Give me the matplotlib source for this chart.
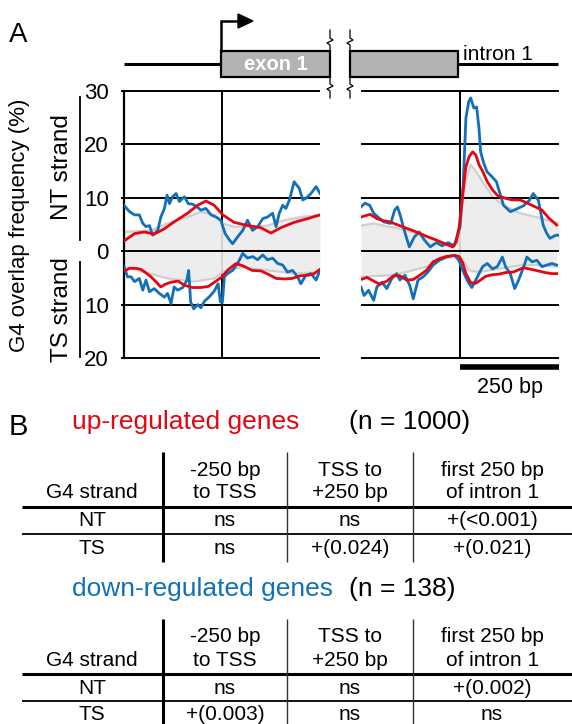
import matplotlib
matplotlib.use("Agg")
import matplotlib.pyplot as plt
from matplotlib.patches import Rectangle, Polygon

plt.rcParams['font.family'] = ['Liberation Sans', 'DejaVu Sans']

RED = '#e30613'
BLUE = '#1270b8'
GRAY_FILL = '#ebebeb'
GRAY_EDGE = '#cfcfcf'

# ---- panel A, left: -250 bp .. +250 bp around the TSS ----
tss_red_nt_x = [-250, -223, -198, -173, -147, -122, -88, -62, -41, -20, 2, 31, 66, 99, 125, 150, 184, 218, 250]
tss_red_nt = [1.9, 3.3, 3.6, 3.2, 4.2, 5.5, 7.1, 8.6, 9.4, 8.6, 6.8, 5.4, 4.8, 4.4, 3.4, 4.4, 5.4, 6.1, 6.8]

tss_blue_nt_x = [-250, -236, -223, -211, -202, -194, -185, -177, -164, -156, -147, -140, -134, -126, -117,
                 -109, -96, -86, -75, -62, -54, -41, -28, -15, -3, 8, 19, 27, 40, 53, 65, 78, 91, 104,
                 116, 129, 138, 146, 155, 163, 172, 184, 197, 206, 214, 227, 240, 250]
tss_blue_nt = [8.6, 7.4, 6.8, 6.8, 5.2, 4.6, 4.8, 3.0, 3.9, 6.4, 8.0, 10.5, 8.9, 10.2, 10.8,
               9.3, 10.2, 8.9, 8.8, 8.2, 7.7, 8.0, 6.8, 6.4, 5.8, 3.3, 2.1, 1.4, 2.7, 3.9, 5.8, 3.9, 4.6, 6.1,
               6.4, 7.1, 4.6, 7.1, 8.6, 8.0, 9.6, 13.0, 11.8, 9.6, 9.9, 10.8, 12.1, 10.8]

tss_red_ts_x = [-250, -236, -220, -207, -195, -181, -165, -156, -145, -130, -112, -95, -75, -54, -35, -15,
                0, 15, 36, 55, 77, 100, 120, 138, 160, 179, 200, 220, 235, 250]
tss_red_ts = [3.8, 3.2, 3.2, 3.4, 4.0, 4.8, 6.0, 6.7, 6.2, 5.8, 5.6, 6.4, 6.8, 6.8, 6.6, 5.6,
              4.8, 3.5, 2.3, 2.8, 3.6, 3.7, 4.4, 5.1, 5.2, 5.1, 4.6, 4.5, 4.2, 3.4]

tss_blue_ts_x = [-250, -241, -232, -223, -211, -202, -194, -185, -173, -160, -147, -139, -130, -122, -113,
                 -100, -90, -85, -80, -72, -62, -54, -45, -32, -20, -10, -4, 1, 6, 14, 27, 40, 53, 65,
                 78, 91, 104, 116, 129, 142, 155, 167, 180, 193, 201, 214, 227, 240, 250]
tss_blue_ts = [2.9, 4.8, 4.8, 5.7, 5.1, 7.3, 5.4, 7.6, 7.0, 7.9, 8.6, 7.9, 9.8, 6.7, 7.3,
               6.8, 5.5, 3.6, 9.5, 10.8, 10.0, 10.6, 9.4, 8.5, 7.5, 6.1, 9.5, 9.6, 4.8, 4.2, 3.6, 2.3, 0.4, 1.3,
               1.0, 1.6, 0.7, 1.6, 1.3, 2.3, 2.6, 3.9, 3.6, 4.8, 6.1, 4.5, 4.2, 5.4, 3.6]

tss_all_nt_x = [-250, -181, -139, -88, -54, -20, 2, 31, 74, 116, 159, 201, 250]
tss_all_nt = [3.6, 3.9, 5.2, 6.4, 7.4, 6.8, 5.2, 4.6, 4.6, 4.8, 5.8, 6.4, 6.8]
tss_all_ts_x = [-250, -139, -71, -20, 2, 48, 116, 184, 250]
tss_all_ts = [2.9, 5.1, 5.7, 5.1, 3.9, 3.0, 3.6, 4.2, 3.9]

# ---- panel A, right: -250 bp .. +250 bp around the start of intron 1 ----
int_red_nt_x = [-250, -227, -210, -193, -177, -160, -135, -110, -85, -60, -35, -18, -10, -2, 7, 15, 23, 32,
                40, 48, 57, 69, 82, 95, 115, 132, 152, 173, 190, 207, 223, 244]
int_red_nt = [6.4, 6.9, 6.1, 5.7, 5.5, 5.0, 4.3, 3.6, 2.8, 2.1, 1.3, 0.8, 1.7, 4.6, 10.8, 15.8, 17.7, 18.6,
              18.0, 16.2, 15.0, 13.0, 11.5, 10.4, 9.9, 9.6, 9.6, 8.9, 8.3, 7.7, 6.3, 4.9]

int_blue_nt_x = [-250, -240, -228, -218, -207, -193, -175, -165, -158, -150, -143, -135, -128, -115, -103,
                 -90, -75, -60, -45, -30, -15, -5, 0, 8, 15, 22, 27, 35, 42, 48, 52, 60, 68, 80, 92,
                 100, 110, 127, 140, 160, 175, 185, 198, 210, 218, 227, 242, 250]
int_blue_nt = [8.3, 9.0, 8.6, 7.1, 6.4, 5.5, 5.2, 7.7, 8.3, 6.5, 4.5, 2.5, 0.8, 2.7, 3.6,
               2.1, 0.8, 1.6, 1.0, 1.6, 1.0, 3.3, 4.5, 12.4, 25.0, 28.0, 28.7, 26.8, 27.0, 23.0, 18.6, 16.5, 14.9, 14.0, 13.0,
               11.0, 8.6, 7.4, 7.8, 8.5, 9.5, 10.8, 9.5, 4.9, 3.5, 2.4, 3.0, 3.0]

int_red_ts_x = [-250, -235, -218, -202, -185, -168, -152, -135, -118, -102, -85, -68, -52, -35, -14, -2, 7, 15,
                27, 40, 52, 65, 82, 98, 115, 135, 160, 180, 198, 215, 232, 244]
int_red_ts = [5.3, 4.9, 5.6, 6.2, 5.6, 4.6, 4.6, 5.4, 5.3, 4.5, 3.6, 2.0, 1.4, 1.0, 0.8, 1.0, 2.2, 4.2,
              5.9, 6.0, 5.4, 4.7, 4.4, 4.3, 4.0, 3.9, 3.1, 3.4, 3.7, 4.0, 4.2, 4.2]

int_blue_ts_x = [-250, -242, -231, -218, -210, -197, -185, -172, -160, -152, -139, -127, -118, -106, -93, -81,
                 -68, -52, -35, -14, -3, 7, 19, 30, 44, 57, 69, 82, 94, 107, 115, 127, 138, 148, 161,
                 169, 182, 194, 207, 219, 232, 244]
int_blue_ts = [6.7, 8.3, 7.3, 9.2, 6.7, 5.8, 7.0, 5.1, 4.2, 5.4, 4.5, 6.4, 8.9, 5.4, 4.8, 3.9,
               2.6, 1.7, 1.1, 0.75, 1.7, 3.6, 5.6, 6.8, 4.8, 2.9, 2.3, 3.3, 2.9, 1.1, 2.9, 4.2, 7.0, 5.4, 2.9,
               1.1, 2.0, 1.7, 2.9, 2.6, 2.3, 2.6]

int_all_nt_x = [-250, -218, -135, -85, -27, -6, 2, 15, 27, 40, 57, 68, 82, 110, 152, 193, 235, 250]
int_all_nt = [4.8, 5.2, 3.9, 2.7, 1.1, 1.4, 5.8, 13.3, 16.2, 15.0, 13.0, 11.8, 10.2, 8.6, 7.1, 6.4, 5.5, 5.3]
int_all_ts_x = [-250, -177, -135, -85, -52, -10, 7, 23, 48, 98, 157, 198, 244]
int_all_ts = [4.8, 4.5, 3.9, 2.9, 1.7, 0.75, 1.5, 3.6, 3.9, 3.3, 2.6, 2.6, 2.9]

grid_values = [30, 20, 10, 0, -10, -20]
tick_labels = ['30', '20', '10', '0', '10', '20']

# ---- panel B tables ----
col_heads = ['-250 bp\nto TSS', 'TSS to\n+250 bp', 'first 250 bp\nof intron 1']
row_heads = ['NT', 'TS']
up_cells = [['ns', 'ns', '+(<0.001)'], ['ns', '+(0.024)', '+(0.021)']]
down_cells = [['ns', 'ns', '+(0.002)'], ['+(0.003)', 'ns', 'ns']]

W, H = 572, 724
fig = plt.figure(figsize=(W / 100, H / 100), dpi=100)

# overlay axes in pixel units for diagram, labels and tables
ov = fig.add_axes([0, 0, 1, 1])
ov.set_xlim(0, W)
ov.set_ylim(H, 0)
ov.axis('off')


def px_axes(x0, y0, x1, y1):
    return fig.add_axes([x0 / W, 1 - y1 / H, (x1 - x0) / W, (y1 - y0) / H])


def profile(ax, all_nt_x, all_nt, all_ts_x, all_ts, red_nt_x, red_nt, red_ts_x, red_ts,
            blue_nt_x, blue_nt, blue_ts_x, blue_ts, grid_from):
    ax.set_xlim(-250, 250)
    ax.set_ylim(-20, 30)
    ax.set_facecolor('none')
    for s in ax.spines.values():
        s.set_visible(False)
    ax.set_xticks([])
    ax.plot([0, 0], [-20, 30], color='black', lw=1.4, zorder=1, clip_on=False)
    for g in grid_values:
        ax.plot([grid_from, 250], [g, g], color='black', lw=1.4, zorder=3, clip_on=False,
                solid_capstyle='butt')
    ax.fill_between(all_nt_x, all_nt, 0, color=GRAY_FILL, alpha=0.9, lw=0, zorder=2)
    ax.fill_between(all_ts_x, [-v for v in all_ts], 0, color=GRAY_FILL, alpha=0.9, lw=0, zorder=2)
    ax.plot(all_nt_x, all_nt, color=GRAY_EDGE, lw=1.6, zorder=2)
    ax.plot(all_ts_x, [-v for v in all_ts], color=GRAY_EDGE, lw=1.6, zorder=2)
    ax.plot(blue_nt_x, blue_nt, color=BLUE, lw=2.0, zorder=4)
    ax.plot(blue_ts_x, [-v for v in blue_ts], color=BLUE, lw=2.0, zorder=4)
    ax.plot(red_nt_x, red_nt, color=RED, lw=2.0, zorder=5)
    ax.plot(red_ts_x, [-v for v in red_ts], color=RED, lw=2.0, zorder=5)


axL = px_axes(124, 91, 320, 358)
profile(axL, tss_all_nt_x, tss_all_nt, tss_all_ts_x, tss_all_ts, tss_red_nt_x, tss_red_nt,
        tss_red_ts_x, tss_red_ts, tss_blue_nt_x, tss_blue_nt, tss_blue_ts_x, tss_blue_ts, -258)
axL.plot([-250, -250], [-20, 30], color='black', lw=1.6, zorder=3, clip_on=False)
axL.set_yticks(grid_values)
axL.set_yticklabels(tick_labels, fontsize=16)
axL.tick_params(axis='y', length=0, pad=11)

axR = px_axes(361, 91, 559, 358)
profile(axR, int_all_nt_x, int_all_nt, int_all_ts_x, int_all_ts, int_red_nt_x, int_red_nt,
        int_red_ts_x, int_red_ts, int_blue_nt_x, int_blue_nt, int_blue_ts_x, int_blue_ts, -250)
axR.set_yticks([])
# 250 bp scale bar
axR.plot([0, 250], [-21.7, -21.7], color='black', lw=4, clip_on=False, solid_capstyle='butt')
ov.text(510, 388, '250 bp', fontsize=15.5, ha='center', va='center')

# ---- gene diagram ----
ov.plot([124, 221], [64, 64], color='black', lw=2.2, solid_capstyle='butt')
ov.plot([458, 558], [64, 64], color='black', lw=2.2, solid_capstyle='butt')
ov.add_patch(Rectangle((221, 51), 109, 26, facecolor='#b3b3b3', edgecolor='black', lw=1.6))
ov.add_patch(Rectangle((350, 51), 108, 26, facecolor='#b3b3b3', edgecolor='black', lw=1.6))
ov.text(276, 65, 'exon 1', color='white', fontsize=14.5, fontweight='bold', ha='center', va='center')
ov.text(463, 60, 'intron 1', fontsize=15, ha='left', va='baseline')
ov.plot([221, 221, 240], [51, 21, 21], color='black', lw=1.8, solid_joinstyle='miter')
ov.add_patch(Polygon([[238, 14], [238, 28], [253, 21]], closed=True, color='black'))
for bx in (330, 350):
    ov.plot([bx, bx, bx + 3, bx - 3, bx, bx, bx + 3, bx - 3, bx, bx],
            [30, 38, 40, 43, 45, 84, 86, 89, 91, 98], color='black', lw=0.9)

# ---- axis labels ----
ov.text(9, 42, 'A', fontsize=20, ha='left', va='baseline')
ov.text(20, 225, 'G4 overlap frequency (%)', fontsize=16, rotation=90, ha='center', va='center')
ov.text(62, 167, 'NT strand', fontsize=17.5, rotation=90, ha='center', va='center')
ov.text(62, 310, 'TS strand', fontsize=17.5, rotation=90, ha='center', va='center')
ov.plot([80, 80], [97, 240], color='black', lw=1.3)
ov.plot([80, 80], [262, 357], color='black', lw=1.3)

# ---- panel B ----
ov.text(9, 435, 'B', fontsize=21, ha='left', va='baseline')


def draw_table(y0, title, n_text, color, cells):
    ov.text(72, y0 - 85, title, color=color, fontsize=19, ha='left', va='center')
    ov.text(349, y0 - 85, n_text, fontsize=19, ha='left', va='center')
    ov.plot([22, 572], [y0, y0], color='black', lw=2.2, solid_capstyle='butt')
    ov.plot([22, 572], [y0 + 27, y0 + 27], color='black', lw=1.3, solid_capstyle='butt')
    ov.plot([163, 163], [y0 - 55, y0 + 55], color='black', lw=2.2, solid_capstyle='butt')
    for vx in (287, 413):
        ov.plot([vx, vx], [y0 - 55, y0 + 55], color='#333333', lw=1.0, solid_capstyle='butt')
    col_x = [225, 350, 492]
    ov.text(92, y0 - 14, 'G4 strand', fontsize=15, ha='center', va='center')
    for cx, head in zip(col_x, col_heads):
        top, bottom = head.split('\n')
        ov.text(cx, y0 - 37, top, fontsize=15, ha='center', va='center')
        ov.text(cx, y0 - 14, bottom, fontsize=15, ha='center', va='center')
    for r, (rh, row) in enumerate(zip(row_heads, cells)):
        ry = y0 + 14 + 27 * r
        ov.text(92, ry, rh, fontsize=15, ha='center', va='center')
        for cx, val in zip(col_x, row):
            ov.text(cx, ry, val, fontsize=15, ha='center', va='center')


draw_table(507, 'up-regulated genes', '(n = 1000)', RED, up_cells)
draw_table(674, 'down-regulated genes', '(n = 138)', BLUE, down_cells)

fig.savefig('out.png', dpi=100)
